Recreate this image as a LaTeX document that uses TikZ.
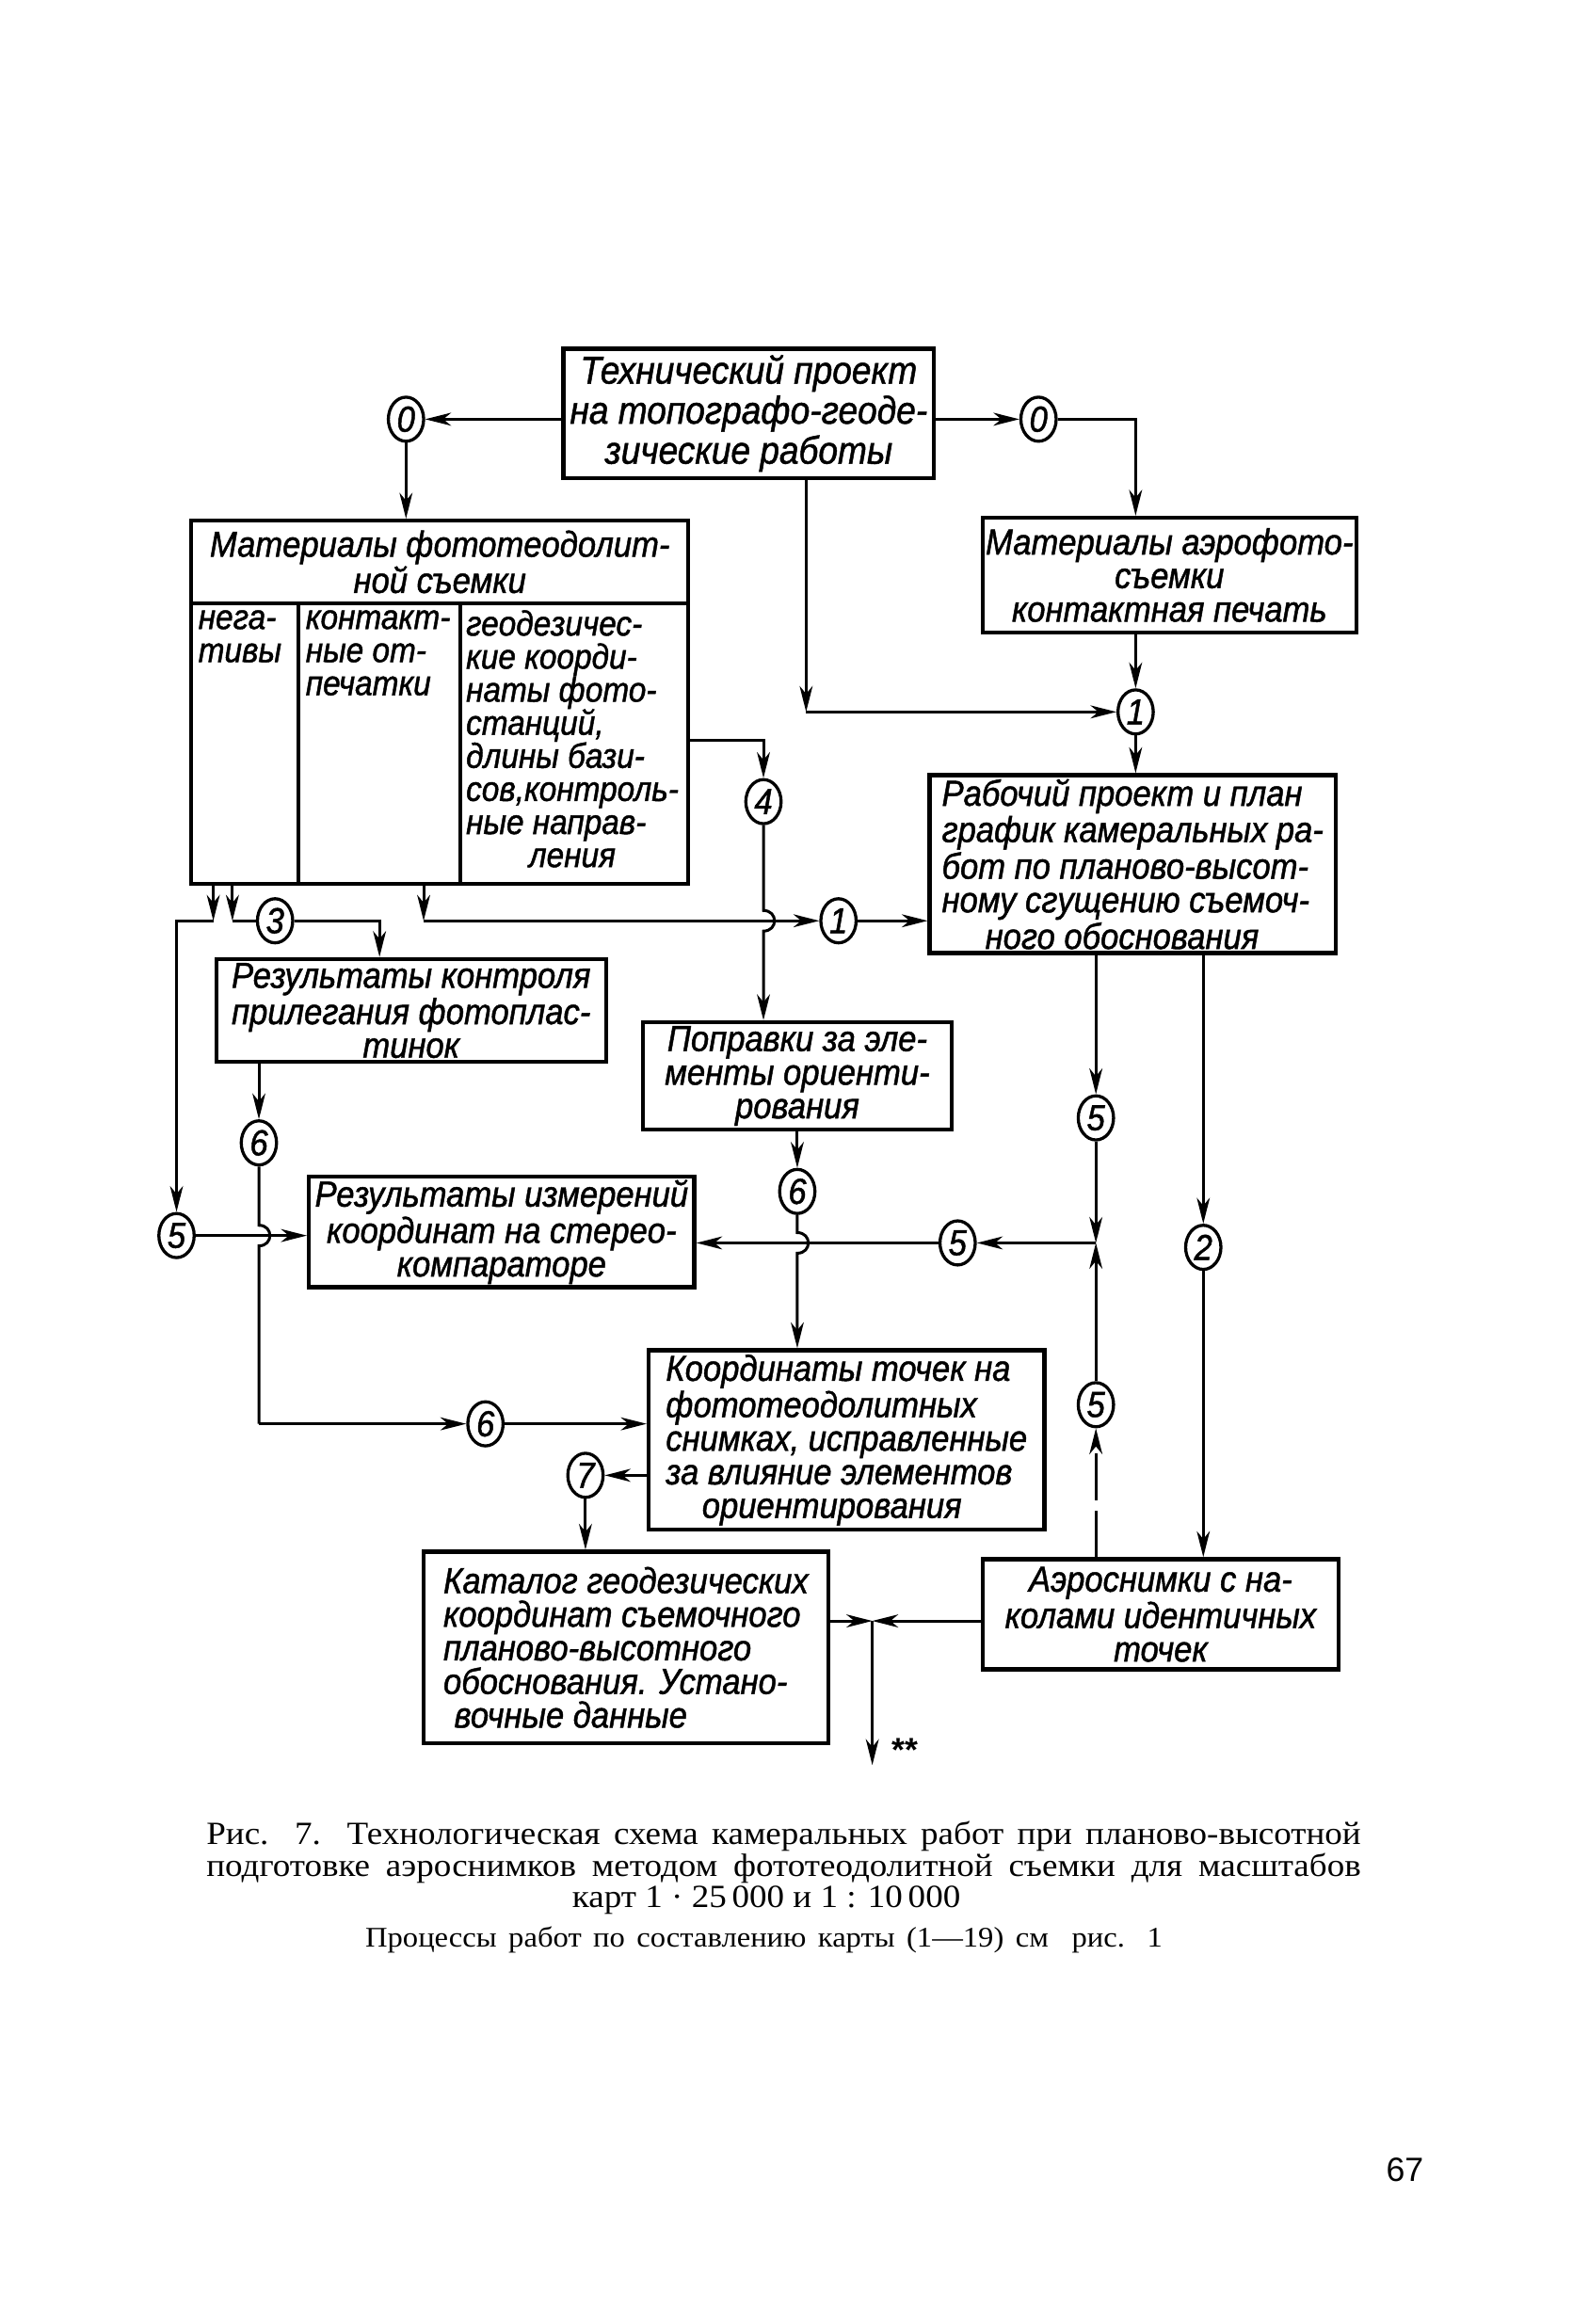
\documentclass[tikz,border=0pt]{standalone}
\usepackage{fontspec}
\setmainfont{Liberation Serif}
\newfontfamily\capfont[FakeStretch=1.08]{Liberation Serif}
\newfontfamily\boxfont[FakeStretch=0.9,FakeBold=1.2]{Liberation Sans}
\newfontfamily\pagefont{Liberation Sans}
\usetikzlibrary{arrows.meta,shapes.geometric,calc}

\begin{document}
\begin{tikzpicture}[x=0.02cm,y=-0.02cm,
  box/.style={draw,line width=1.6pt,inner sep=1pt,align=center,
    font={\boxfont\itshape\fontsize{14}{13}\selectfont}},
  coltext/.style={anchor=north west,inner sep=2pt,align=left,
    font={\boxfont\itshape\fontsize{13.5}{12.8}\selectfont}},
  num/.style={draw,ellipse,line width=1.2pt,minimum width=0.48cm,
    minimum height=0.6cm,inner sep=0pt,fill=white,
    font={\boxfont\itshape\fontsize{14}{14}\selectfont}},
  con/.style={line width=1.1pt},
  arr/.style={con,-{Stealth[length=10pt,width=5pt,inset=3pt]}}]
\useasboundingbox (0,0) rectangle (1080,1580);

% boxes
\node[box,minimum width=5.04cm,minimum height=1.76cm,
  font={\boxfont\itshape\fontsize{15}{15.5}\selectfont}] (T) at (509,281)
  {Технический проект\\на топографо-геоде-\\зические работы};
\node[box,minimum width=6.76cm,minimum height=4.94cm] (M) at (299,477.5) {};
\node[box,minimum width=5.08cm,minimum height=1.56cm] (A) at (795,391)
  {Материалы аэрофото-\\съемки\\контактная печать};
\node[box,minimum width=5.52cm,minimum height=2.42cm,align=left] (W) at (770,587.5)
  {Рабочий проект и план\\график камеральных ра-\\бот по планово-высот-\\ному сгущению съемоч-\\\hspace{1.2em}ного обоснования};
\node[box,minimum width=5.3cm,minimum height=1.4cm] (R) at (279.5,687)
  {Результаты контроля\\прилегания фотоплас-\\тинок};
\node[box,minimum width=4.2cm,minimum height=1.46cm] (P) at (542,731.5)
  {Поправки за эле-\\менты ориенти-\\рования};
\node[box,minimum width=5.24cm,minimum height=1.5cm] (I) at (341,837.5)
  {Результаты измерений\\координат на стерео-\\компараторе};
\node[box,minimum width=5.38cm,minimum height=2.44cm,align=left] (C) at (575.5,979)
  {Координаты точек на\\фототеодолитных\\снимках, исправленные\\за влияние элементов\\\hspace{1em}ориентирования};
\node[box,minimum width=5.5cm,minimum height=2.6cm,align=left] (G) at (425.5,1120)
  {Каталог геодезических\\координат съемочного\\планово-высотного\\обоснования. Устано-\\\hspace{0.3em}вочные данные};
\node[box,minimum width=4.84cm,minimum height=1.5cm] (K) at (789,1097.5)
  {Аэроснимки с на-\\колами идентичных\\точек};

% inner parts of the photo materials box
\coordinate (Mh) at (0,410);
\coordinate (d1) at (203,0);
\coordinate (d2) at (313,0);
\draw[line width=1.6pt] (M.west |- Mh) -- (M.east |- Mh);
\draw[line width=1.4pt] (d1 |- Mh) -- (d1 |- M.south);
\draw[line width=1.4pt] (d2 |- Mh) -- (d2 |- M.south);
\node[align=center,inner sep=0pt,font={\boxfont\itshape\fontsize{14}{14}\selectfont}]
  (Mtitle) at (299,382) {Материалы фототеодолит-\\ной съемки};
\node[coltext] (Mneg) at (131,411) {нега-\\тивы};
\node[coltext] (Mcon) at (204,411) {контакт-\\ные от-\\печатки};
\node[coltext] (Mgeo) at (313,411)
  {геодезичес-\\кие коорди-\\наты фото-\\станций,\\длины бази-\\сов,контроль-\\ные направ-\\\hspace{1.8em}ления};

% numbered circles
\node[num] (c0L) at (276,285) {0};
\node[num] (c0R) at (706,285) {0};
\node[num] (c1a) at (772,484) {1};
\node[num] (c4) at (519,545) {4};
\node[num] (c3) at (187,626) {3};
\node[num] (c1b) at (570,626) {1};
\node[num] (c6a) at (176,777) {6};
\node[num] (c5L) at (120,840) {5};
\node[num] (c6b) at (542,810) {6};
\node[num] (c5m) at (651,845) {5};
\node[num] (c5u) at (745,760) {5};
\node[num] (c2) at (818,848) {2};
\node[num] (c5d) at (745,955) {5};
\node[num] (c6c) at (330,968) {6};
\node[num] (c7) at (398,1003) {7};

% connectors
\coordinate (a1) at (772,285);
\coordinate (t1) at (548,484);
\coordinate (m4) at (519,503);
\coordinate (h1) at (519,626);
\coordinate (b1) at (145,626);
\coordinate (b2) at (158,626);
\coordinate (b3) at (288,626);
\coordinate (r1) at (258,626);
\coordinate (h2) at (176,840);
\coordinate (g1) at (176,968);
\coordinate (h3) at (542,845);
\coordinate (j5) at (745,845);
\coordinate (J) at (593,1102);

\draw[arr] (T.west |- c0L) -- (c0L.east);
\draw[arr] (T.east |- c0R) -- (c0R.west);
\draw[arr] (c0L.south) -- (c0L.south |- M.north);
\draw[arr] (c0R.east) -- (a1) -- (a1 |- A.north);
\draw[arr] (t1 |- T.south) -- (t1);
\draw[arr] (t1) -- (c1a.west);
\draw[arr] (c1a |- A.south) -- (c1a.north);
\draw[arr] (c1a.south) -- (c1a |- W.north);
\draw[arr] (m4 -| M.east) -- (m4) -- (c4.north);
\draw[arr] (c4.south) -- ($(h1)+(0,-7)$) .. controls +(10,0) and +(10,0) .. ($(h1)+(0,7)$) -- (h1 |- P.north);

\draw[arr] (b1 |- M.south) -- (b1);
\draw[arr] (b1) -| (c5L.north);
\draw[arr] (b2 |- M.south) -- (b2);
\draw[con] (b2) -- (c3.west);
\draw[arr] (c3.east) -| (r1 |- R.north);
\draw[arr] (b3 |- M.south) -- (b3);
\draw[arr] (b3) -- (c1b.west);
\draw[arr] (c1b.east) -- (c1b.east -| W.west);

\draw[arr] (c6a |- R.south) -- (c6a.north);
\draw[con] (c6a.south) -- ($(h2)+(0,-7)$) .. controls +(10,0) and +(10,0) .. ($(h2)+(0,7)$) -- (g1);
\draw[arr] (g1) -- (c6c.west);
\draw[arr] (c6c.east) -- (c6c.east -| C.west);
\draw[arr] (c5L.east) -- (c5L.east -| I.west);

\draw[arr] (P.south) -- (c6b.north);
\draw[arr] (c6b.south) -- ($(h3)+(0,-7)$) .. controls +(10,0) and +(10,0) .. ($(h3)+(0,7)$) -- (h3 |- C.north);

\draw[arr] (c5u |- W.south) -- (c5u.north);
\draw[arr] (c5u.south) -- (j5);
\draw[arr,dash pattern=on 18pt off 4pt] (c5d |- K.north) -- (c5d.south);
\draw[arr] (c5d.north) -- (j5);
\draw[arr] (j5) -- (c5m.east);
\draw[arr] (c5m.west) -- (c5m.west -| I.east);

\draw[arr] (c2 |- W.south) -- (c2.north);
\draw[arr] (c2.south) -- (c2 |- K.north);

\draw[arr] (C.west |- c7) -- (c7.east);
\draw[arr] (c7.south) -- (c7 |- G.north);

\draw[arr] (G.east |- J) -- (J);
\draw[arr] (K.west |- J) -- (J);
\draw[arr] (J) -- ++(0,98) coordinate (Jend);
\node[font={\pagefont\bfseries\fontsize{13}{13}\selectfont},anchor=west] (stars) at (600,1190) {**};

% caption
\node[anchor=base west,inner sep=0pt,font={\capfont\fontsize{12.5}{14}\selectfont}] (cap1) at (140,1254)
  {\makebox[15.7cm][s]{Рис. 7. Технологическая схема камеральных работ при планово-высотной}};
\node[anchor=base west,inner sep=0pt,font={\capfont\fontsize{12.5}{14}\selectfont}] (cap2) at (140,1276)
  {\makebox[15.7cm][s]{подготовке аэроснимков методом фототеодолитной съемки для масштабов}};
\node[anchor=base,inner sep=0pt,font={\capfont\fontsize{12.5}{14}\selectfont}] (cap3) at (521,1297)
  {карт 1 · 25\,000 и 1 : 10\,000};
\node[anchor=base west,inner sep=0pt,font={\capfont\fontsize{11}{12}\selectfont}] (cap4) at (248,1324)
  {\makebox[10.84cm][s]{Процессы работ по составлению карты (1—19) см\ \ рис. 1}};

\node[font={\pagefont\fontsize{13}{13}\selectfont}] (page) at (955,1475) {67};
\end{tikzpicture}
\end{document}
